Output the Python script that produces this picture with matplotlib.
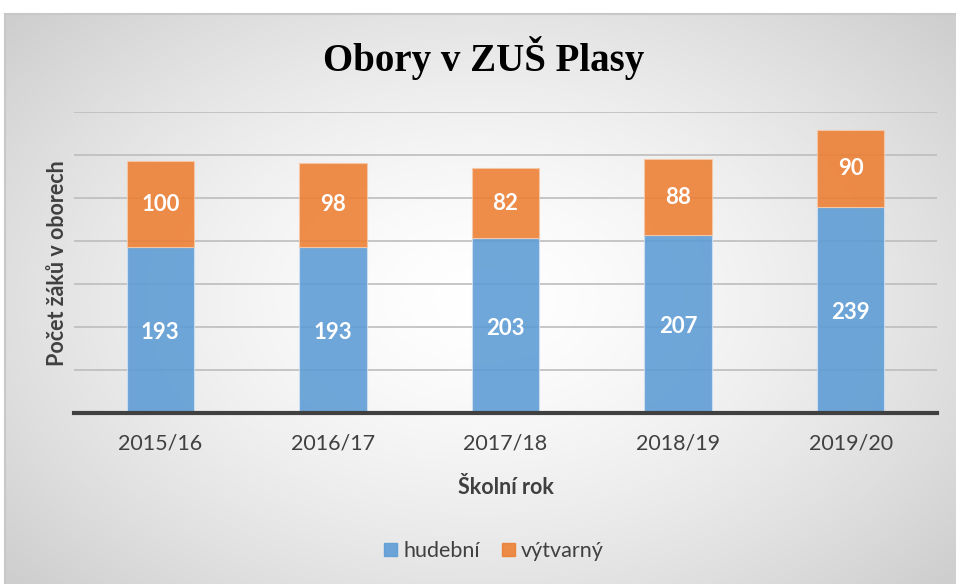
import numpy as np
import matplotlib.pyplot as plt
from matplotlib.patches import Patch

roky = ['2015/16', '2016/17', '2017/18', '2018/19', '2019/20']
hudebni = [193, 193, 203, 207, 239]
vytvarny = [100, 98, 82, 88, 90]

c_hud = '#5B9BD5'
c_vyt = '#ED7D31'

fig = plt.figure(figsize=(9.56, 5.84), dpi=100)

# pozadí s kruhovým přechodem
bg = fig.add_axes([5 / 956, 0, 951 / 956, 570 / 584], zorder=-5)
yy, xx = np.mgrid[-1:1:300j, -1:1:500j]
r = np.sqrt((xx * 0.95) ** 2 + (yy * 0.85) ** 2)
g = 1 - 0.19 * np.clip(r / 1.25, 0, 1) ** 1.5
bg.imshow(np.dstack([g, g, g]), aspect='auto', extent=[0, 1, 0, 1])
bg.set_xticks([])
bg.set_yticks([])
for s in bg.spines.values():
    s.set_color('#c8c8c8')
    s.set_linewidth(1.5)
bg.spines['bottom'].set_visible(False)
bg.spines['right'].set_visible(False)

ax = fig.add_axes([74 / 956, 1 - 413 / 584, 863 / 956, 301 / 584])
ax.set_facecolor('none')
x = np.arange(len(roky))
w = 0.39
ax.bar(x, hudebni, w, color=c_hud, alpha=0.88, edgecolor='#cfe0f2', linewidth=0.8, zorder=3)
ax.bar(x, vytvarny, w, bottom=hudebni, color=c_vyt, alpha=0.88, edgecolor='#f7c9a8', linewidth=0.8, zorder=3)

for i in range(len(roky)):
    ax.text(x[i], hudebni[i] / 2 - 3, str(hudebni[i]), ha='center', va='center', color='white',
            fontsize=16, fontweight='bold', family='Lato', zorder=4)
    ax.text(x[i], hudebni[i] + vytvarny[i] / 2, str(vytvarny[i]), ha='center', va='center',
            color='white', fontsize=16, fontweight='bold', family='Lato', zorder=4)

ax.set_xlim(-0.5, len(roky) - 0.5)
ax.set_ylim(0, 350)
ax.set_yticks(np.arange(0, 351, 50))
ax.set_yticklabels([])
ax.tick_params(axis='y', length=0)
ax.tick_params(axis='x', length=0, pad=15)
ax.grid(axis='y', color='#bdbdbd', linewidth=1.2, zorder=0)
ax.set_xticks(x)
ax.set_xticklabels(roky, family='Lato', fontsize=15.5, color='#404040')
for s in ['top', 'right', 'left']:
    ax.spines[s].set_visible(False)
ax.spines['bottom'].set_color('#404040')
ax.spines['bottom'].set_linewidth(3)
ax.spines['bottom'].set_zorder(5)

ax.set_xlabel('Školní rok', family='Lato', fontsize=15.5, fontweight='bold', color='#404040', labelpad=17)
fig.text(58 / 956, 1 - 263 / 584, 'Počet žáků v oborech', rotation=90, ha='center', va='center',
         family='Lato', fontsize=15.5, fontweight='bold', color='#404040')

fig.text(484 / 956, 1 - 58 / 584, 'Obory v ZUŠ Plasy', ha='center', va='center',
         family='Liberation Serif', fontsize=28, fontweight='bold', color='black')

leg = fig.legend(handles=[Patch(color=c_hud, alpha=0.88, label='hudební'),
                          Patch(color=c_vyt, alpha=0.88, label='výtvarný')],
                 loc='center', bbox_to_anchor=(494 / 956, 1 - 551 / 584), ncol=2, frameon=False,
                 prop={'family': 'Lato', 'size': 15.5}, handlelength=0.6, handleheight=0.6,
                 handletextpad=0.3, columnspacing=1.0)
for t in leg.get_texts():
    t.set_color('#404040')

fig.savefig('out.png', dpi=100)
